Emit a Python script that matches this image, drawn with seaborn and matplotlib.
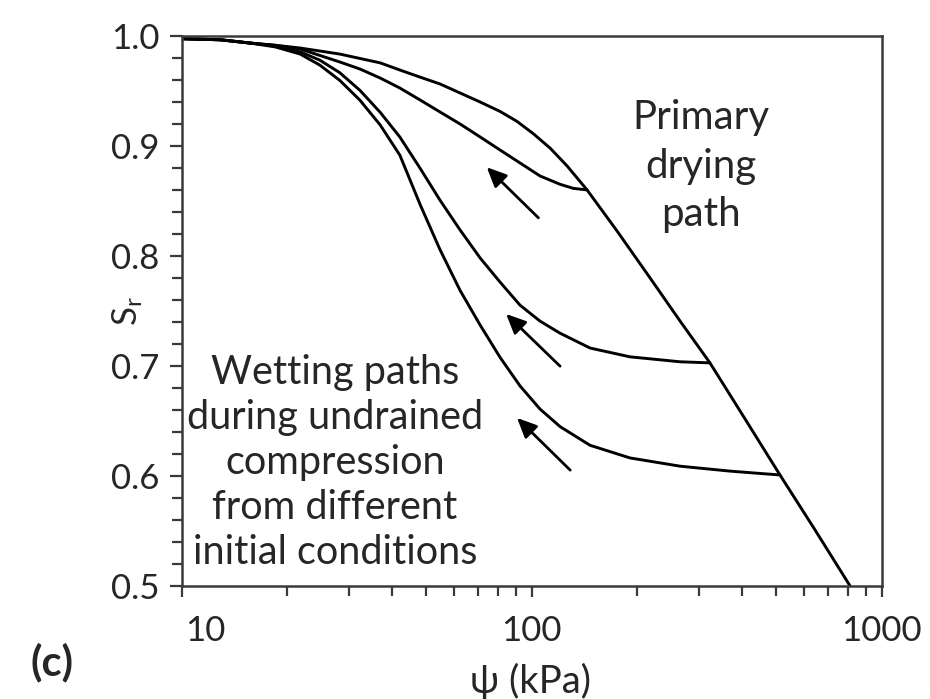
import numpy as np
import pandas as pd
import matplotlib
matplotlib.use("Agg")
import matplotlib.pyplot as plt
from matplotlib.ticker import FixedLocator, NullFormatter, FixedFormatter
from matplotlib.transforms import ScaledTranslation
import seaborn as sns

# Primary drying path (suction in kPa, degree of saturation)
dry_psi = [10, 12.9, 15.7, 18.5, 21.8, 28.3, 32.3, 36.9, 42, 48, 54.7, 62.4, 71.2, 81.2,
           90.8, 100.9, 112.8, 126.2, 143.9, 175.3, 217.8, 265.3, 323, 368.7, 420.5, 512,
           644.8, 812]
dry_sr = [0.998, 0.997, 0.994, 0.992, 0.9895, 0.984, 0.980, 0.976, 0.9695, 0.963, 0.9568,
          0.9486, 0.9404, 0.9318, 0.9227, 0.9117, 0.8985, 0.8822, 0.8604, 0.823, 0.7803,
          0.7411, 0.703, 0.6738, 0.6447, 0.601, 0.551, 0.500]

# Wetting paths during undrained compression, one per initial condition
wet1_psi = [10, 12.9, 15.7, 18.5, 21.8, 28.3, 32.3, 36.9, 42, 48, 54.7, 62.4, 71.2, 81.2,
            92.6, 105.6, 120.5, 131.5, 143.9]
wet1_sr = [0.998, 0.997, 0.994, 0.992, 0.9886, 0.9768, 0.9704, 0.9622, 0.9531, 0.9422,
           0.9313, 0.9204, 0.9086, 0.8967, 0.8849, 0.8731, 0.8655, 0.8618, 0.8604]

wet2_psi = [10, 12.9, 15.7, 18.5, 21.8, 24.8, 28.3, 32.3, 36.9, 42, 48, 54.7, 62.4, 71.2,
            81.2, 92.6, 105.6, 120.5, 146.8, 190.9, 265.3, 323]
wet2_sr = [0.998, 0.997, 0.994, 0.9915, 0.986, 0.9785, 0.967, 0.951, 0.931, 0.9085, 0.880,
           0.851, 0.824, 0.7985, 0.7765, 0.7555, 0.741, 0.730, 0.7165, 0.7085, 0.704, 0.703]

wet3_psi = [10, 12.9, 15.7, 18.5, 21.8, 24.8, 28.3, 32.3, 36.9, 42, 48, 54.7, 62.4, 71.2,
            81.2, 92.6, 105.6, 120.5, 146.8, 190.9, 265.3, 368.7, 512]
wet3_sr = [0.998, 0.997, 0.994, 0.9905, 0.984, 0.974, 0.960, 0.942, 0.9195, 0.892, 0.847,
           0.806, 0.769, 0.7375, 0.708, 0.682, 0.661, 0.645, 0.628, 0.6165, 0.609, 0.6045,
           0.601]

# Arrows showing the wetting direction: (tail psi, tail Sr, head psi, head Sr)
arrow_tail_psi = [104.5, 120.5, 128.8]
arrow_tail_sr = [0.835, 0.700, 0.6054]
arrow_head_psi = [74.4, 84.5, 90.8]
arrow_head_sr = [0.881, 0.7475, 0.6529]

x_ticks = [10, 100, 1000]
x_ticklabels = ["10", "100", "1000"]
y_ticks = [0.5, 0.6, 0.7, 0.8, 0.9, 1.0]
y_ticklabels = ["0.5", "0.6", "0.7", "0.8", "0.9", "1.0"]

frames = []
for name, xs, ys in [("primary", dry_psi, dry_sr), ("wet1", wet1_psi, wet1_sr),
                     ("wet2", wet2_psi, wet2_sr), ("wet3", wet3_psi, wet3_sr)]:
    frames.append(pd.DataFrame({"psi": xs, "Sr": ys, "path": name}))
df = pd.concat(frames, ignore_index=True)

sns.set_theme(style="ticks")
plt.rcParams["font.family"] = ["Lato", "DejaVu Sans"]
plt.rcParams["mathtext.default"] = "regular"
text_color = "#262626"

fig = plt.figure(figsize=(9.30, 6.99), dpi=100)
ax = fig.add_axes([0.1954, 0.1617, 0.7527, 0.7861])

sns.lineplot(data=df, x="psi", y="Sr", units="path", estimator=None, sort=False,
             color="black", linewidth=2.1, ax=ax, legend=False)

for tx, ty, hx, hy in zip(arrow_tail_psi, arrow_tail_sr, arrow_head_psi, arrow_head_sr):
    ax.annotate("", xy=(hx, hy), xytext=(tx, ty),
                arrowprops=dict(arrowstyle="-|>,head_length=0.7,head_width=0.32",
                                color="black", lw=2.0, mutation_scale=17,
                                shrinkA=0, shrinkB=0))

ax.set_xscale("log")
ax.set_xlim(10, 1000)
ax.set_ylim(0.5, 1.0)

ax.xaxis.set_major_locator(FixedLocator(x_ticks))
ax.xaxis.set_major_formatter(FixedFormatter(x_ticklabels))
ax.xaxis.set_minor_locator(FixedLocator([m * d for d in (10, 100) for m in range(2, 10)]))
ax.xaxis.set_minor_formatter(NullFormatter())
ax.yaxis.set_major_locator(FixedLocator(y_ticks))
ax.yaxis.set_major_formatter(FixedFormatter(y_ticklabels))
ax.yaxis.set_minor_locator(FixedLocator(np.arange(0.52, 1.0, 0.02)))

spine_color = "#3a3a3a"
for s in ax.spines.values():
    s.set_visible(True)
    s.set_color(spine_color)
    s.set_linewidth(1.8)

ax.tick_params(axis="both", which="both", direction="out", color=spine_color, width=1.6,
               labelcolor=text_color, labelsize=25)
ax.tick_params(axis="y", which="major", length=9, pad=7)
ax.tick_params(axis="y", which="minor", length=7)
ax.tick_params(axis="x", which="major", length=8, pad=13)
ax.tick_params(axis="x", which="minor", length=7)

# the "10" label sits to the right of its tick
first = ax.get_xticklabels()[0]
first.set_transform(first.get_transform() + ScaledTranslation(0.24, 0, fig.dpi_scale_trans))

ax.set_xlabel("\u03c8 (kPa)", fontsize=27.5, color=text_color)
ax.xaxis.set_label_coords(0.4976, -0.14)
ax.set_ylabel("S$_{r}$", fontsize=25, color=text_color)
ax.yaxis.set_label_coords(-0.052, 0.5)

ax.text(0.742, 0.764, "Primary\ndrying\npath", transform=ax.transAxes, ha="center",
        va="center", fontsize=29, color=text_color, linespacing=1.39)
ax.text(0.219, 0.225, "Wetting paths\nduring undrained\ncompression\nfrom different\ninitial conditions",
        transform=ax.transAxes, ha="center", va="center", fontsize=28.5, color=text_color,
        linespacing=1.27)

fig.text(0.056, 0.053, "(c)", ha="center", va="center", fontsize=30, fontweight="bold",
         color=text_color)

fig.savefig("out.png", dpi=100, facecolor="white")
